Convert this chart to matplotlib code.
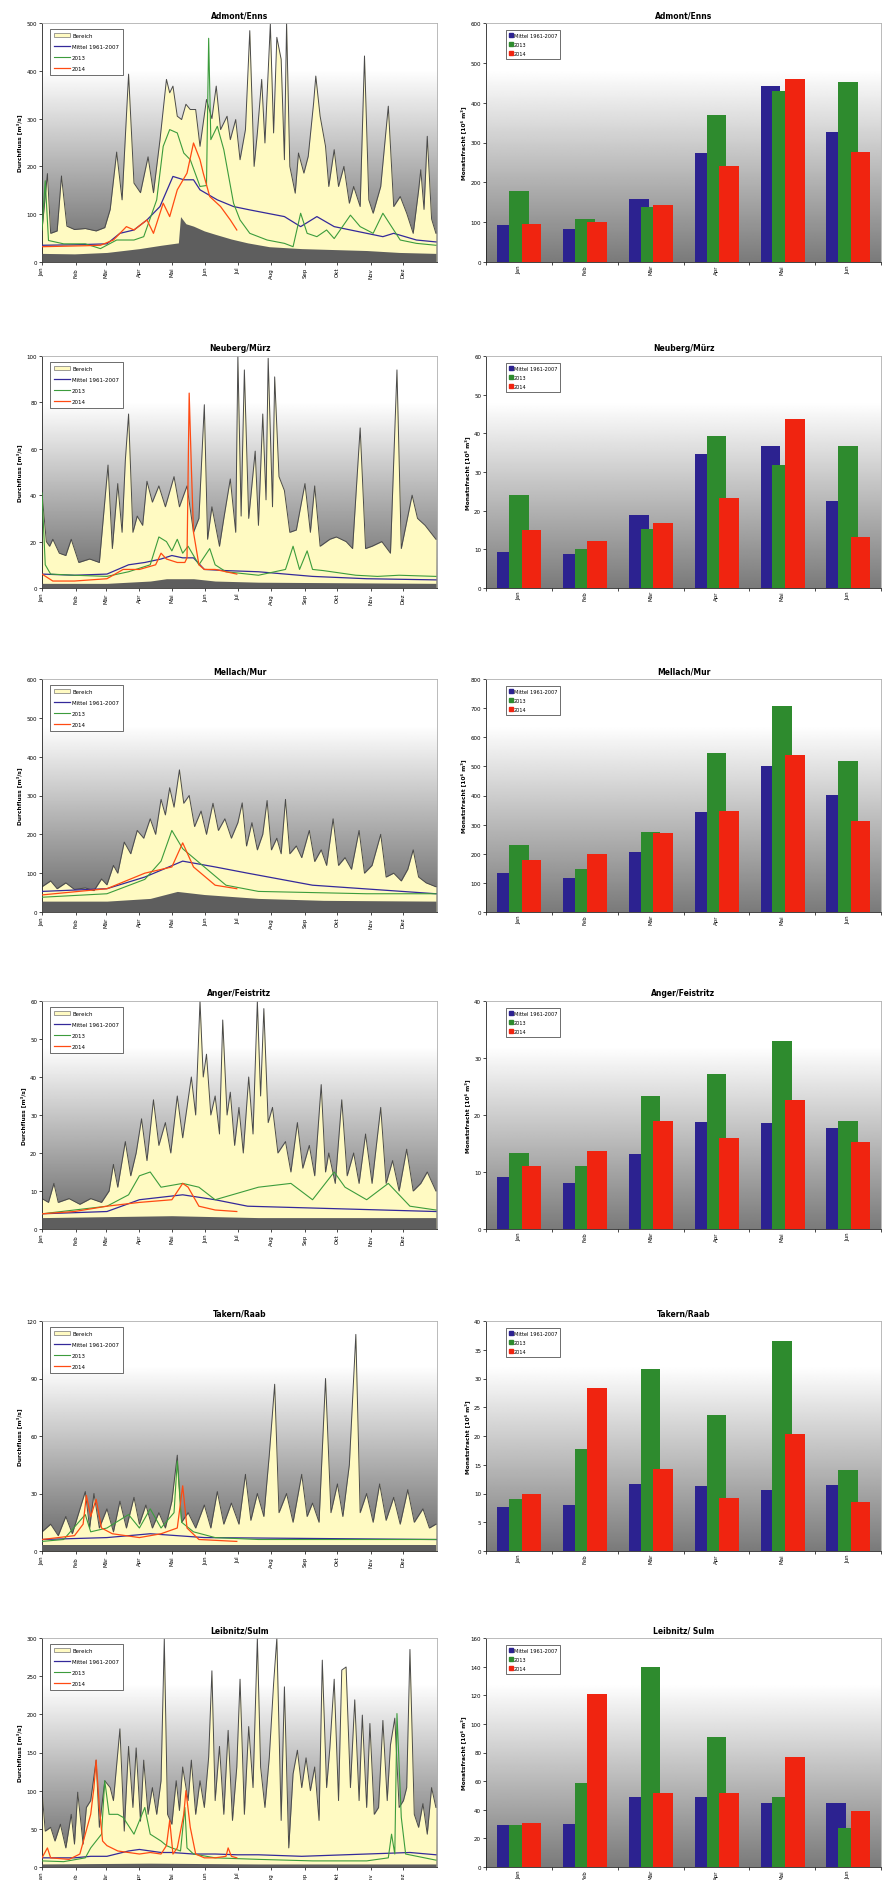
import numpy as np
import matplotlib.pyplot as plt
from matplotlib.patches import Patch
from matplotlib.lines import Line2D

# ---------------- Tagesdaten (Tag im Jahr, Durchfluss m3/s) ----------------
enns_max = [(0,67),(5,185),(8,60),(14,65),(18,180),(23,75),(30,68),(40,70),(50,65),(58,72),(63,110),(69,230),(74,130),
            (80,393),(85,165),(91,145),(98,220),(103,145),(109,255),(115,382),(118,354),(121,368),(125,305),(129,298),
            (133,330),(137,319),(142,319),(146,242),(152,340),(157,300),(161,368),(165,277),(171,305),(174,256),(179,298),
            (183,214),(188,277),(192,484),(196,200),(199,270),(203,382),(206,249),(211,498),(214,270),(217,470),(221,424),
            (224,214),(226,500),(229,200),(234,144),(237,228),(242,186),(246,221),(251,333),(253,389),(257,305),(262,242),
            (265,158),(270,235),(274,158),(279,200),(284,123),(288,158),(294,116),(298,431),(302,130),(306,102),(313,158),
            (320,326),(325,116),(331,137),(337,102),(343,60),(348,150),(350,193),(353,110),(356,263),(360,90),(364,60)]
enns_min = [(0,18),(30,17),(60,20),(90,28),(110,35),(126,40),(128,95),(133,80),(140,75),(150,65),(160,58),(175,48),
            (190,40),(210,32),(240,28),(270,26),(300,24),(330,20),(364,18)]
enns_mean = [(0,35),(30,36),(60,38),(72,60),(85,67),(97,88),(109,116),(121,179),(131,172),(140,172),(146,151),(162,130),
             (177,116),(192,109),(208,102),(224,95),(239,74),(254,95),(270,74),(285,67),(300,60),(315,53),(325,60),
             (346,46),(364,42)]
enns_13 = [(0,67),(3,170),(6,45),(20,38),(40,38),(54,28),(69,46),(85,46),(94,53),(106,130),(112,242),(118,277),(125,270),
           (131,228),(137,214),(146,158),(152,160),(154,468),(156,256),(162,284),(168,235),(177,123),(183,88),(192,60),
           (208,46),(224,39),(232,32),(239,102),(245,60),(254,53),(263,67),(270,49),(285,98),(294,74),(306,60),(315,102),
           (331,46),(346,39),(364,35)]
enns_14 = [(0,32),(20,33),(40,34),(54,35),(66,46),(78,74),(85,67),(97,88),(103,60),(112,123),(118,95),(125,151),
           (134,186),(140,249),(146,214),(149,186),(155,137),(165,116),(174,88),(180,67)]

muerz_max = [(0,41),(4,20),(7,18),(10,21),(16,15),(22,14),(27,21),(34,11),(44,12.5),(53,11),(61,53),(65,17),(70,45),
             (74,24),(77,55),(80,75),(84,24),(88,31),(93,27),(97,46),(102,37),(108,44),(114,35),(122,48),(127,35),
             (134,44),(140,24),(145,30),(150,79),(153,21),(157,35),(164,18),(168,30),(174,47),(179,24),(181,100),
             (184,31),(187,94),(191,30),(197,59),(200,27),(204,75),(207,38),(209,99),(213,35),(215,91),(219,48),
             (224,42),(229,24),(235,25),(243,45),(248,24),(252,44),(257,18),(266,21),(272,22),(281,20),(287,17),
             (294,69),(299,17),(305,18),(314,20),(322,15),(328,94),(332,17),(342,40),(347,30),(354,27),(364,21)]
muerz_min = [(0,2),(60,2),(100,3),(115,4),(140,4),(160,3),(200,2.5),(364,2)]
muerz_mean = [(0,6),(30,5.5),(60,6),(80,10),(95,11),(110,12.5),(120,14),(130,13),(140,13),(150,8),(170,7.5),
              (200,7),(250,5),(300,4),(364,3.5)]
muerz_13 = [(0,41),(3,10),(8,6),(30,5.5),(60,5),(80,7),(100,10),(108,22),(115,20),(120,16),(125,21),(130,15),
            (135,18),(145,10),(155,17),(160,10),(170,7),(200,5.5),(225,8),(232,18),(238,8),(245,16),(250,8),
            (260,7.5),(290,5.5),(310,5),(330,5.5),(364,5)]
muerz_14 = [(0,6),(10,3),(30,3),(60,4),(75,8),(90,8),(105,10),(110,15),(115,12.5),(125,11),(132,11),(134,13),
            (136,84),(138,52),(140,24),(145,10),(150,8),(160,8),(170,7),(180,6)]

mur_max = [(0,65),(8,80),(14,60),(22,75),(30,58),(40,62),(48,55),(55,85),(60,70),(66,120),(70,100),(76,180),(82,150),
           (88,210),(94,190),(100,240),(105,200),(110,290),(114,250),(118,320),(122,270),(127,366),(131,280),(136,300),
           (141,220),(147,260),(152,200),(158,280),(163,210),(169,240),(175,190),(181,230),(185,281),(189,170),
           (194,230),(199,160),(204,200),(208,287),(212,160),(217,190),(221,150),(225,290),(229,150),(235,170),
           (240,140),(247,210),(252,130),(258,160),(263,120),(269,240),(274,120),(280,140),(286,110),(293,210),
           (298,100),(305,120),(313,200),(318,90),(325,100),(332,80),(338,110),(343,160),(348,90),(355,75),(364,65)]
mur_min = [(0,28),(60,28),(100,35),(125,53),(150,45),(200,35),(260,30),(364,28)]
mur_mean = [(0,53),(60,60),(95,90),(130,131),(160,116),(190,100),(250,69),(364,47)]
mur_13 = [(0,38),(60,47),(95,84),(110,131),(120,210),(130,163),(150,116),(170,69),(200,53),(300,47),(364,47)]
mur_14 = [(0,44),(60,60),(95,100),(120,116),(130,178),(140,116),(160,69),(180,60)]

feistritz_max = [(0,8),(6,7),(11,12),(15,7),(25,8),(35,6.5),(45,8),(55,7),(62,10),(66,17),(70,11),(77,23),(82,14),
                 (87,20),(92,29),(97,18),(103,34),(108,22),(114,28),(119,20),(125,35),(130,24),(138,40),(142,30),
                 (146,60),(149,40),(152,46),(156,30),(160,35),(164,25),(167,55),(171,30),(174,36),(178,22),(182,32),
                 (186,20),(191,40),(195,25),(199,60),(202,35),(205,58),(209,28),(213,32),(218,20),(225,23),(230,15),
                 (236,28),(241,16),(247,22),(252,14),(258,38),(262,15),(265,20),(271,12),(277,34),(282,14),(288,20),
                 (293,12),(299,25),(305,12),(313,32),(318,12),(324,18),(330,10),(337,21),(343,10),(350,12),(356,15),
                 (364,10)]
feistritz_min = [(0,3),(120,3.5),(200,3),(364,3)]
feistritz_mean = [(0,4),(60,4.6),(90,7.7),(130,9),(160,7.7),(190,6),(364,4.6)]
feistritz_13 = [(0,4),(60,6),(80,9),(90,14),(100,15),(110,11),(130,12),(145,11),(160,7.7),(200,11),(230,12),
                (250,7.7),(270,15),(280,11),(300,7.7),(320,12),(340,6),(364,5)]
feistritz_14 = [(0,4),(30,4.6),(60,6),(90,7),(120,7.7),(130,12),(135,11),(145,6),(160,5),(180,4.6)]

raab_max = [(0,10),(8,14),(15,8),(22,18),(28,9),(34,20),(40,31),(44,12),(48,30),(53,12),(60,22),(66,10),(72,26),
            (78,12),(85,28),(90,14),(96,24),(102,12),(108,20),(114,12),(120,26),(125,50),(129,15),(135,20),(142,12),
            (150,24),(156,12),(162,31),(168,14),(175,25),(182,14),(188,40),(193,16),(199,30),(205,18),(210,50),
            (215,87),(219,20),(226,30),(232,15),(240,40),(245,18),(250,25),(256,15),(262,90),(267,20),(273,35),
            (278,18),(284,45),(290,113),(294,20),(300,30),(306,15),(312,35),(318,16),(325,28),(331,14),(338,32),
            (344,15),(352,22),(358,12),(364,14)]
raab_min = [(0,3),(364,3)]
raab_mean = [(0,6),(60,7),(100,9),(150,7),(364,6)]
raab_13 = [(0,5),(20,6),(40,19),(45,10),(60,12),(80,19),(90,12),(100,22),(110,12),(122,20),(125,47),(129,15),
           (140,10),(160,7),(200,6),(364,6)]
raab_14 = [(0,6),(30,8),(38,14),(41,29),(45,18),(50,27),(55,12),(65,9),(90,7),(110,9),(125,12),(130,34),(134,12),
           (145,6),(180,5)]

sulm_max = [(0,100),(3,47),(8,52),(12,34),(17,56),(22,25),(27,69),(30,30),(33,98),(38,30),(41,78),(45,87),(50,140),
            (53,52),(58,113),(63,104),(66,87),(72,181),(76,47),(80,158),(84,78),(87,156),(91,60),(94,140),(98,69),
            (102,104),(106,69),(110,113),(113,299),(116,69),(120,56),(124,113),(127,74),(130,131),(135,87),(138,140),
            (142,69),(146,113),(150,78),(154,144),(157,257),(160,87),(164,158),(168,69),(172,179),(176,61),(180,131),
            (183,246),(187,69),(191,184),(195,104),(199,300),(202,131),(206,78),(210,143),(214,240),(217,300),(221,61),
            (224,236),(228,25),(232,122),(236,153),(240,104),(244,143),(248,100),(252,131),(256,61),(259,271),(263,104),
            (266,156),(270,246),(274,87),(277,258),(281,262),(285,104),(289,219),(293,87),(296,199),(300,78),(303,188),
            (307,69),(311,78),(315,192),(319,87),(322,160),(326,195),(330,78),(334,87),(337,104),(340,285),(344,69),
            (348,52),(352,83),(356,43),(360,104),(364,78)]
sulm_min = [(0,4),(100,5),(200,4),(364,4)]
sulm_mean = [(0,12),(30,12),(45,14),(60,14),(80,21),(90,23),(100,21),(110,19),(120,19),(140,17),(160,17),(180,16),
             (200,16),(240,14),(280,16),(320,18),(340,19),(364,16)]
sulm_13 = [(0,8),(20,7),(40,12),(45,25),(55,43),(58,113),(62,69),(70,69),(75,65),(85,43),(95,78),(100,43),(110,34),
           (115,28),(120,25),(128,21),(132,78),(134,25),(140,17),(160,12),(200,10),(250,8),(300,8),(320,12),(323,43),
           (326,17),(328,201),(332,65),(336,17),(364,9)]
sulm_14 = [(0,12),(5,25),(8,12),(25,10),(35,17),(40,43),(45,69),(48,104),(50,140),(53,78),(56,34),(60,28),(70,21),
           (80,19),(90,17),(100,19),(110,17),(115,28),(118,61),(121,17),(125,25),(131,69),(133,100),(137,52),(142,17),
           (150,12),(160,12),(170,14),(172,25),(175,14),(180,12)]

# ---------------- Monatsfrachten (10^6 m3), Jan-Jun ----------------
months_bar = ["Jan", "Feb", "Mär", "Apr", "Mai", "Jun"]
enns_bar_mean = [92, 84, 157, 273, 441, 326]
enns_bar_13 = [179, 109, 139, 370, 429, 451]
enns_bar_14 = [95, 101, 143, 242, 460, 276]
muerz_bar_mean = [9.3, 8.9, 19.0, 34.7, 36.6, 22.4]
muerz_bar_13 = [24.0, 10.2, 15.2, 39.3, 31.9, 36.6]
muerz_bar_14 = [14.9, 12.1, 16.9, 23.3, 43.8, 13.2]
mur_bar_mean = [135, 118, 206, 343, 503, 403]
mur_bar_13 = [229, 149, 274, 545, 706, 520]
mur_bar_14 = [179, 199, 271, 346, 539, 311]
feistritz_bar_mean = [9.1, 8.0, 13.2, 18.8, 18.6, 17.8]
feistritz_bar_13 = [13.3, 11.1, 23.3, 27.2, 33.0, 18.9]
feistritz_bar_14 = [11.1, 13.7, 18.9, 16.0, 22.7, 15.3]
raab_bar_mean = [7.7, 8.0, 11.6, 11.3, 10.6, 11.4]
raab_bar_13 = [9.0, 17.7, 31.6, 23.7, 36.6, 14.1]
raab_bar_14 = [9.9, 28.3, 14.3, 9.2, 20.3, 8.5]
sulm_bar_mean = [29, 30, 49, 49, 45, 45]
sulm_bar_13 = [29, 59, 140, 91, 49, 27]
sulm_bar_14 = [31, 121, 52, 52, 77, 39]

month_names = ["Jan", "Feb", "Mär", "Apr", "Mai", "Jun", "Jul", "Aug", "Sep", "Okt", "Nov", "Dez"]
month_start = [0, 31, 59, 90, 120, 151, 181, 212, 243, 273, 304, 334]

stations = [
    ("Admont/Enns", "Admont/Enns", enns_max, enns_min, enns_mean, enns_13, enns_14, 500, 100,
     enns_bar_mean, enns_bar_13, enns_bar_14, 600, 100),
    ("Neuberg/Mürz", "Neuberg/Mürz", muerz_max, muerz_min, muerz_mean, muerz_13, muerz_14, 100, 20,
     muerz_bar_mean, muerz_bar_13, muerz_bar_14, 60, 10),
    ("Mellach/Mur", "Mellach/Mur", mur_max, mur_min, mur_mean, mur_13, mur_14, 600, 100,
     mur_bar_mean, mur_bar_13, mur_bar_14, 800, 100),
    ("Anger/Feistritz", "Anger/Feistritz", feistritz_max, feistritz_min, feistritz_mean, feistritz_13, feistritz_14, 60, 10,
     feistritz_bar_mean, feistritz_bar_13, feistritz_bar_14, 40, 10),
    ("Takern/Raab", "Takern/Raab", raab_max, raab_min, raab_mean, raab_13, raab_14, 120, 30,
     raab_bar_mean, raab_bar_13, raab_bar_14, 40, 5),
    ("Leibnitz/Sulm", "Leibnitz/ Sulm", sulm_max, sulm_min, sulm_mean, sulm_13, sulm_14, 300, 50,
     sulm_bar_mean, sulm_bar_13, sulm_bar_14, 160, 20),
]

# ---------------- Layout ----------------
W, H = 888, 1881
rows_px = [(24, 263), (357, 589), (680, 913), (1002, 1230), (1322, 1552), (1639, 1868)]
left_px = (42, 437)
right_px = (486, 881)

c_yellow = "#FFFAC2"
c_maxline = "#4a4a4a"
c_min = "#5e5e5e"
c_mean = "#34299a"
c_13 = "#3c9c3c"
c_14 = "#ff4a12"
b_mean = "#2c2290"
b_13 = "#2e8b2e"
b_14 = "#f02410"

plt.rcParams['font.family'] = ['DejaVu Sans']
fig = plt.figure(figsize=(W / 100, H / 100), dpi=100)
fig.patch.set_facecolor("white")

# grauer Verlauf: unten dunkel, oberes Fuenftel fast weiss
t = np.linspace(0, 1, 256)
grad_line = (0.40 + 0.60 * np.clip(t / 0.8, 0, 1))[:, None]
grad_bar = (0.48 + 0.52 * np.clip(t / 0.8, 0, 1))[:, None]


def make_axes(xp, yp):
    return fig.add_axes([xp[0] / W, 1 - yp[1] / H, (xp[1] - xp[0]) / W, (yp[1] - yp[0]) / H])


def style(ax, grad):
    ax.imshow(grad, extent=[0, 1, 0, 1], transform=ax.transAxes, aspect='auto',
              cmap='gray', vmin=0, vmax=1, origin='lower', zorder=0, interpolation='bilinear')
    for s in ["top", "right"]:
        ax.spines[s].set_color("#b0b0b0")
        ax.spines[s].set_linewidth(0.6)
    for s in ["left", "bottom"]:
        ax.spines[s].set_color("#222222")
        ax.spines[s].set_linewidth(0.6)
    ax.tick_params(labelsize=4, length=2, width=0.5, pad=1.5, direction='out')


for i, st in enumerate(stations):
    (tl, tr, qmax, qmin, qmean, q13, q14, ytop, ystep, bm, b3, b4, btop, bstep) = st
    yp = rows_px[i]

    # ---- Tagesganglinie ----
    ax = make_axes(left_px, yp)
    style(ax, grad_line)
    d, v = np.array(qmax).T
    ax.fill_between(d, 0, v, color=c_yellow, zorder=1, lw=0)
    ax.plot(d, v, color=c_maxline, lw=0.7, zorder=2)
    d, v = np.array(qmin).T
    ax.fill_between(d, 0, v, color=c_min, zorder=3, lw=0)
    d, v = np.array(qmean).T
    ax.plot(d, v, color=c_mean, lw=0.9, zorder=4)
    d, v = np.array(q13).T
    ax.plot(d, v, color=c_13, lw=0.8, zorder=5)
    d, v = np.array(q14).T
    ax.plot(d, v, color=c_14, lw=0.9, zorder=6)
    ax.set_xlim(0, 365)
    ax.set_ylim(0, ytop)
    ax.set_yticks(np.arange(0, ytop + 0.1, ystep))
    ax.set_xticks(month_start)
    ax.set_xticklabels(month_names, rotation=90)
    ax.set_title(tl, fontsize=5.5, fontweight='bold', pad=4)
    ax.set_ylabel("Durchfluss [m³/s]", fontsize=4.2, fontweight='bold', labelpad=3)
    handles = [Patch(facecolor=c_yellow, edgecolor="#777777", lw=0.5),
               Line2D([], [], color=c_mean, lw=0.9),
               Line2D([], [], color=c_13, lw=0.8),
               Line2D([], [], color=c_14, lw=0.9)]
    leg = ax.legend(handles, ["Bereich", "Mittel 1961-2007", "2013", "2014"], loc='upper left',
                    bbox_to_anchor=(0.02, 0.975), fontsize=4, frameon=True, fancybox=False,
                    edgecolor="#333333", framealpha=1, borderpad=0.7, labelspacing=1.1,
                    handlelength=3.0, handletextpad=0.3, borderaxespad=0)
    leg.get_frame().set_linewidth(0.5)
    leg.set_zorder(10)

    # ---- Monatsfrachten ----
    bx = make_axes(right_px, yp)
    style(bx, grad_bar)
    x = np.arange(len(months_bar))
    bx.bar(x - 0.18, bm, 0.3, color=b_mean, zorder=2)
    bx.bar(x, b3, 0.3, color=b_13, zorder=3)
    bx.bar(x + 0.19, b4, 0.3, color=b_14, zorder=4)
    bx.set_xlim(-0.5, 5.5)
    bx.set_ylim(0, btop)
    bx.set_yticks(np.arange(0, btop + 0.1, bstep))
    bx.set_xticks(x)
    bx.set_xticklabels(months_bar, rotation=90)
    bx.set_xticks(np.arange(-0.5, 6, 1), minor=True)
    bx.tick_params(axis='x', which='major', length=0)
    bx.tick_params(axis='x', which='minor', length=2, width=0.5)
    bx.set_title(tr, fontsize=5.5, fontweight='bold', pad=4)
    bx.set_ylabel("Monatsfracht [10⁶ m³]", fontsize=4.2, fontweight='bold', labelpad=3)
    handles = [Line2D([], [], color=c, marker='s', ls='none', markersize=2.2) for c in (b_mean, b_13, b_14)]
    leg = bx.legend(handles, ["Mittel 1961-2007", "2013", "2014"], loc='upper left',
                    bbox_to_anchor=(0.05, 0.97), fontsize=3.6, frameon=True, fancybox=False,
                    edgecolor="#333333", framealpha=1, borderpad=0.6, labelspacing=0.8,
                    handlelength=0.8, handletextpad=0.2, borderaxespad=0)
    leg.get_frame().set_linewidth(0.5)

fig.savefig("out.png", dpi=100)
